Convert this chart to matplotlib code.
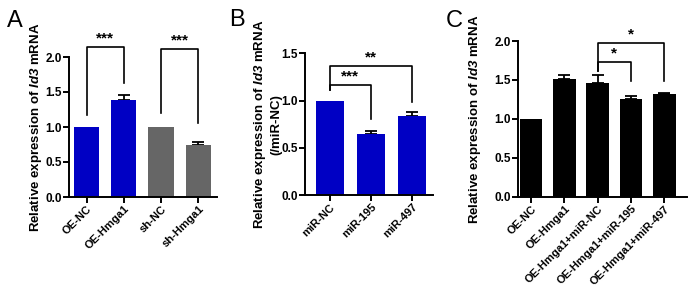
import matplotlib.pyplot as plt

plt.rcParams['font.family'] = 'Liberation Sans'
plt.rcParams['font.weight'] = 'bold'
plt.rcParams['mathtext.fontset'] = 'custom'
plt.rcParams['mathtext.rm'] = 'Liberation Sans:bold'
plt.rcParams['mathtext.bfit'] = 'Liberation Sans:italic:bold'

# Panel A
a_labels = ['OE-NC', 'OE-Hmga1', 'sh-NC', 'sh-Hmga1']
a_vals = [1.0, 1.39, 1.0, 0.75]
a_err = [0, 0.07, 0, 0.04]
a_colors = ['#0000c4', '#0000c4', '#666666', '#666666']

# Panel B
b_labels = ['miR-NC', 'miR-195', 'miR-497']
b_vals = [1.0, 0.65, 0.84]
b_err = [0, 0.03, 0.04]

# Panel C
c_labels = ['OE-NC', 'OE-Hmga1', 'OE-Hmga1+miR-NC', 'OE-Hmga1+miR-195', 'OE-Hmga1+miR-497']
c_vals = [1.0, 1.51, 1.46, 1.25, 1.32]
c_err = [0, 0.05, 0.1, 0.05, 0.01]

# significance brackets: (x1, x2, y_left, y_top, y_right, text)
a_sig = [(0, 1, 1.17, 2.14, 1.63, '***'), (2, 3, 1.2, 2.11, 1.06, '***')]
b_sig = [(0, 2, 1.11, 1.366, 0.99, '**'), (0, 1, 1.11, 1.17, 0.80, '***')]
c_sig = [(2, 4, 1.61, 1.97, 1.49, '*'), (2, 3, 1.61, 1.73, 1.49, '*')]

W, H = 689, 286
fig = plt.figure(figsize=(W / 100, H / 100), dpi=100)

def make_ax(x0, x1, y0, ppu, ymax):
    ytop = y0 - ymax * ppu
    return fig.add_axes([x0 / W, 1 - y0 / H, (x1 - x0) / W, (y0 - ytop) / H])

def panel(ax, labels, vals, err, colors, sig, ymax, ytop, step, xlim, ylabel, lab_x):
    x = list(range(len(vals)))
    ax.bar(x, vals, width=0.68, color=colors, zorder=2)
    ex = [i for i in x if err[i] > 0]
    ax.errorbar(ex, [vals[i] for i in ex],
                yerr=[[0] * len(ex), [err[i] for i in ex]], fmt='none',
                ecolor='black', elinewidth=1.3, capsize=4, capthick=1.3, zorder=1)
    for x1, x2, yl, yt, yr, txt in sig:
        ax.plot([x1, x1, x2, x2], [yl, yt, yt, yr], color='black', lw=1.2,
                clip_on=False)
        ax.text((x1 + x2) / 2, yt + 0.01 * ytop, txt, ha='center', va='bottom',
                fontsize=11, fontweight='bold')
    ax.set_xlim(*xlim)
    ax.set_ylim(0, ymax)
    ticks = [i * step for i in range(int(round(ytop / step)) + 1)]
    ax.set_yticks(ticks)
    ax.set_yticklabels(['%.1f' % t for t in ticks])
    ax.spines['left'].set_bounds(0, ytop)
    ax.spines['top'].set_visible(False)
    ax.spines['right'].set_visible(False)
    for s in ('left', 'bottom'):
        ax.spines[s].set_linewidth(1.4)
    ax.tick_params(width=1.4, length=4, labelsize=8.5, pad=1)
    ax.set_xticks(x)
    ax.set_xticklabels(labels, rotation=45, ha='right', rotation_mode='anchor',
                       fontsize=8)
    ax.set_ylabel(ylabel, fontsize=9.5, fontweight='bold')
    # centre the label on the drawn part of the y axis
    ax.yaxis.set_label_coords(lab_x, ytop / 2 / ymax)

ylab = r'Relative expression of $\mathbfit{Id3}$ mRNA'

ax_a = make_ax(69, 217, 197, 70, 2.25)
panel(ax_a, a_labels, a_vals, a_err, a_colors, a_sig, 2.25, 2.0, 0.5,
      (-0.47, 3.5), ylab, -0.17)

ax_b = make_ax(305, 433, 195, 94.4, 1.6)
panel(ax_b, b_labels, b_vals, b_err, ['#0000c4'] * 3, b_sig, 1.6, 1.5, 0.5,
      (-0.6, 2.5), ylab + '\n(/miR-NC)', -0.18)

ax_c = make_ax(518, 687, 196.7, 77.8, 2.15)
panel(ax_c, c_labels, c_vals, c_err, ['black'] * 5, c_sig, 2.15, 2.0, 0.5,
      (-0.39, 4.68), ylab, -0.21)

fig.text(7 / W, 1 - 27 / H, 'A', fontsize=17, fontweight='normal')
fig.text(229 / W, 1 - 26 / H, 'B', fontsize=17, fontweight='normal')
fig.text(446 / W, 1 - 27 / H, 'C', fontsize=17, fontweight='normal')

fig.savefig('out.png', dpi=100)
